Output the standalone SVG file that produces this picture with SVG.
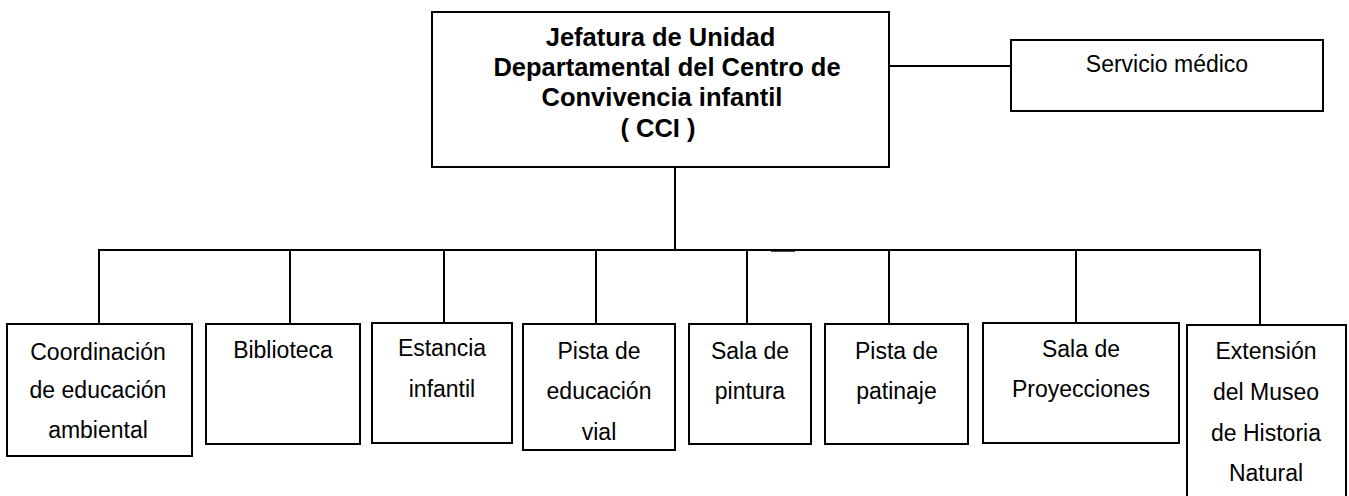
<svg xmlns="http://www.w3.org/2000/svg" width="1349" height="496" viewBox="0 0 1349 496">
<style>
.box{fill:#fff;stroke:#000;stroke-width:2}
.ln{stroke:#000;stroke-width:2;fill:none}
.t{font-family:"Liberation Sans",Arial,sans-serif;font-size:23px;fill:#000;text-anchor:middle}
.tb{font-family:"Liberation Sans",Arial,sans-serif;font-size:25.5px;font-weight:bold;fill:#000;text-anchor:middle}
</style>
<rect width="1349" height="496" fill="#fff"/>
<g id="connectors">
<line class="ln" x1="675" y1="167" x2="675" y2="250"/>
<line class="ln" x1="889" y1="66" x2="1011" y2="66"/>
<line class="ln" x1="98" y1="250" x2="1261" y2="250"/>
<line x1="771" y1="250.4" x2="795" y2="250.4" stroke="#000" stroke-width="2.6"/>
<line class="ln" x1="99" y1="250" x2="99" y2="324"/>
<line class="ln" x1="290" y1="250" x2="290" y2="324"/>
<line class="ln" x1="444" y1="250" x2="444" y2="323"/>
<line class="ln" x1="596" y1="250" x2="596" y2="324"/>
<line class="ln" x1="747" y1="250" x2="747" y2="324"/>
<line class="ln" x1="889" y1="250" x2="889" y2="324"/>
<line class="ln" x1="1076" y1="250" x2="1076" y2="323"/>
<line class="ln" x1="1260" y1="250" x2="1260" y2="325"/>
</g>
<g id="jefatura">
<rect class="box" x="432" y="12" width="457" height="155"/>
<text class="tb" x="660.5" y="46">Jefatura de Unidad</text>
<text class="tb" x="667" y="76">Departamental del Centro de</text>
<text class="tb" x="662" y="105.5">Convivencia infantil</text>
<text class="tb" x="658" y="137">( CCI )</text>
</g>
<g id="servicio">
<rect class="box" x="1011" y="40" width="312" height="71"/>
<text class="t" x="1167" y="72">Servicio médico</text>
</g>
<g id="coordinacion">
<rect class="box" x="7" y="324" width="185" height="132"/>
<text class="t" x="98" y="359.5">Coordinación</text>
<text class="t" x="98" y="398">de educación</text>
<text class="t" x="98" y="437.5">ambiental</text>
</g>
<g id="biblioteca">
<rect class="box" x="206" y="324" width="154" height="120"/>
<text class="t" x="283" y="357.5">Biblioteca</text>
</g>
<g id="estancia">
<rect class="box" x="372" y="323" width="140" height="120"/>
<text class="t" x="442" y="355.5">Estancia</text>
<text class="t" x="442" y="396.5">infantil</text>
</g>
<g id="pista-vial">
<rect class="box" x="523" y="324" width="152" height="126"/>
<text class="t" x="599" y="358.5">Pista de</text>
<text class="t" x="599" y="398.5">educación</text>
<text class="t" x="599" y="439.5">vial</text>
</g>
<g id="pintura">
<rect class="box" x="689" y="324" width="122" height="120"/>
<text class="t" x="750" y="358.5">Sala de</text>
<text class="t" x="750" y="398.5">pintura</text>
</g>
<g id="patinaje">
<rect class="box" x="825" y="324" width="143" height="120"/>
<text class="t" x="896.5" y="358.5">Pista de</text>
<text class="t" x="896.5" y="398.5">patinaje</text>
</g>
<g id="proyecciones">
<rect class="box" x="983" y="323" width="196" height="120"/>
<text class="t" x="1081" y="357">Sala de</text>
<text class="t" x="1081" y="397">Proyecciones</text>
</g>
<g id="museo">
<rect class="box" x="1187" y="325" width="159" height="185"/>
<text class="t" x="1266" y="358.5">Extensión</text>
<text class="t" x="1266" y="399.5">del Museo</text>
<text class="t" x="1266" y="441">de Historia</text>
<text class="t" x="1266" y="480.5">Natural</text>
</g>
</svg>
